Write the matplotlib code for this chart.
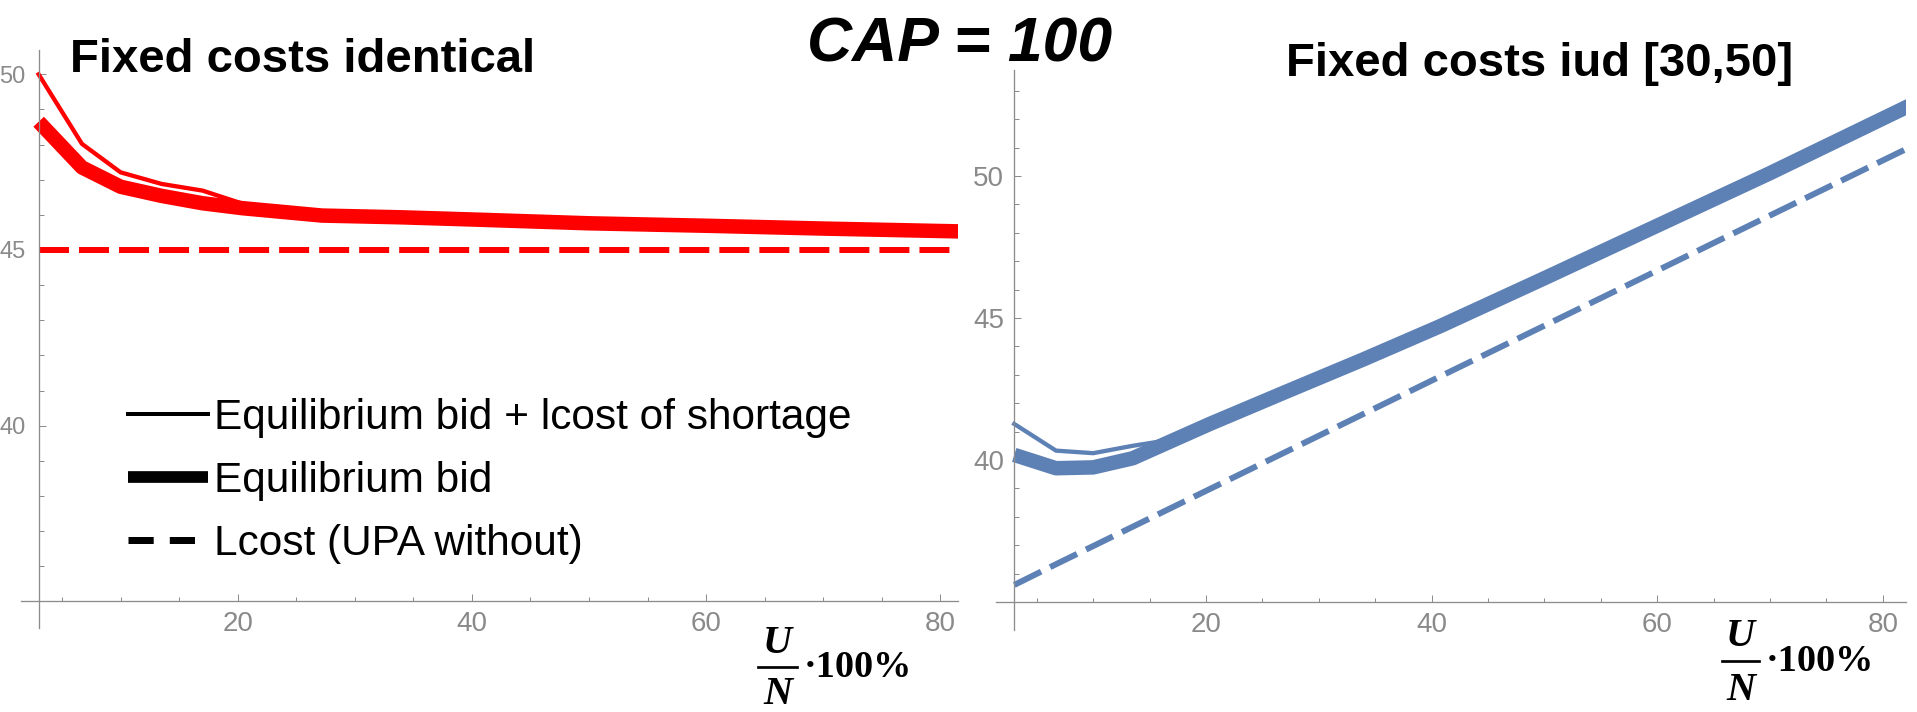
import matplotlib

matplotlib.use("Agg")
import matplotlib.pyplot as plt
from matplotlib.lines import Line2D
from matplotlib.ticker import FixedLocator

W, H = 1917, 712

RED = "#ff0000"
BLUE = "#5e81b5"
AXIS_GREY = "#8c8c8c"
LABEL_GREY = "#8a8a8a"

plt.rcParams["font.family"] = ["Liberation Sans", "DejaVu Sans"]

# U/N * 100% grid shared by both panels
U_PCT = [3.0, 6.7, 10.0, 13.5, 17.0, 20.4, 27.2, 34.0, 40.8, 50.0, 60.0, 70.0, 83.0]

# fixed costs identical
IDENT_BID = [48.65, 47.35, 46.80, 46.54, 46.33, 46.19, 45.98, 45.93, 45.86, 45.76, 45.69, 45.61, 45.52]
IDENT_BID_SHORT = [50.00, 48.02, 47.21, 46.88, 46.69, 46.32, 46.00, 45.95, 45.88, 45.78, 45.71, 45.63, 45.54]
IDENT_LCOST = [45.0, 45.0, 45.0, 45.0, 45.0, 45.0, 45.0, 45.0, 45.0, 45.0, 45.0, 45.0, 45.0]

# fixed costs uniformly distributed on [30, 50]
IUD_BID = [40.18, 39.71, 39.74, 40.06, 40.68, 41.28, 42.42, 43.55, 44.72, 46.40, 48.25, 50.10, 52.60]
IUD_BID_SHORT = [41.27, 40.33, 40.24, 40.50, 40.72, 41.30, 42.44, 43.57, 44.74, 46.42, 48.27, 50.12, 52.62]
IUD_LCOST = [35.60, 36.33, 36.97, 37.65, 38.33, 38.99, 40.31, 41.63, 42.95, 44.73, 46.67, 48.61, 51.13]

LEGEND_LABELS = ["Equilibrium bid + lcost of shortage", "Equilibrium bid", "Lcost (UPA without)"]
X_MAJOR = [20, 40, 60, 80]
Y_MAJOR = [40, 45, 50]

PT = 72 / 100  # px -> pt at dpi 100
SERIF = ["Liberation Serif", "DejaVu Serif"]


def px_axes(fig, left, top, right, bottom):
    return fig.add_axes([left / W, 1 - bottom / H, (right - left) / W, (bottom - top) / H])


def style_axes(ax, xlim, ylim, y_top, xlab_size, ylab_size, ypad):
    ax.set_xlim(*xlim)
    ax.set_ylim(*ylim)
    ax.patch.set_alpha(0)
    for s in ("top", "right"):
        ax.spines[s].set_visible(False)
    ax.spines["left"].set_position(("data", U_PCT[0]))
    ax.spines["bottom"].set_position(("data", 35))
    for s in ("left", "bottom"):
        ax.spines[s].set_color(AXIS_GREY)
        ax.spines[s].set_linewidth(1.3 * PT)
    ax.xaxis.set_major_locator(FixedLocator(X_MAJOR))
    ax.xaxis.set_minor_locator(FixedLocator([v for v in range(5, 80, 5) if v not in X_MAJOR]))
    ax.yaxis.set_major_locator(FixedLocator(Y_MAJOR))
    ax.yaxis.set_minor_locator(FixedLocator([v for v in range(36, y_top + 1) if v not in Y_MAJOR]))
    ax.tick_params(which="both", direction="in", color=AXIS_GREY, width=1.0 * PT,
                   labelcolor=LABEL_GREY)
    ax.tick_params(which="major", length=7 * PT)
    ax.tick_params(which="minor", length=4.5 * PT)
    ax.tick_params(axis="x", labelsize=xlab_size, pad=10 * PT)
    ax.tick_params(axis="y", labelsize=ylab_size, pad=ypad * PT)


def draw_panel(ax, color, bid, bid_short, lcost):
    ax.plot(U_PCT, bid, color=color, lw=14.5 * PT, solid_joinstyle="round", solid_capstyle="butt")
    ax.plot(U_PCT, bid_short, color=color, lw=4.3 * PT, solid_joinstyle="round")
    ax.plot(U_PCT, lcost, color=color, lw=6 * PT, dashes=(5, 1.67))


def axis_label(fig, x0, x1, ybar, u_base, n_base, ybase):
    """U over N with a fraction bar, followed by '·100%' (positions in px)."""
    xc = (x0 + x1) / 2
    for s, yb in (("U", u_base), ("N", n_base)):
        fig.text(xc / W, 1 - yb / H, s, fontsize=29, weight="bold", style="italic",
                 family=SERIF, ha="center", va="baseline")
    fig.add_artist(Line2D([x0 / W, x1 / W], [1 - ybar / H, 1 - ybar / H], color="black",
                          lw=2.7 * PT, transform=fig.transFigure))
    fig.text((x1 + 7) / W, 1 - ybase / H, "\u00b7100%", fontsize=27.5, weight="bold",
             family=SERIF, ha="left", va="baseline")


fig = plt.figure(figsize=(W / 100, H / 100), dpi=100)

# left panel
ax1 = px_axes(fig, 21, 50, 958, 628)
style_axes(ax1, ((21 - 3.5) / 11.71, (958 - 3.5) / 11.71),
           (45 - (628 - 250) / 35.14, 45 + (250 - 50) / 35.14), 49, 20, 17, 13)
draw_panel(ax1, RED, IDENT_BID, IDENT_BID_SHORT, IDENT_LCOST)

handles = [
    Line2D([], [], color="black", lw=4 * PT),
    Line2D([], [], color="black", lw=11.7 * PT, solid_capstyle="butt"),
    Line2D([], [], color="black", lw=7 * PT, dashes=(3.6, 2.3)),
]
ax1.legend(handles, LEGEND_LABELS, loc="upper left", bbox_to_anchor=(128 / W, 1 - 398 / H),
           bbox_transform=fig.transFigure, frameon=False, borderpad=0, borderaxespad=0,
           handlelength=1.88, handletextpad=0.16, labelspacing=0.54, fontsize=30.5)

# right panel
ax2 = px_axes(fig, 995.5, 70, 1906, 630)
style_axes(ax2, ((995.5 - 980.4) / 11.28, (1906 - 980.4) / 11.28),
           (40 - (630 - 460) / 28.4, 40 + (460 - 70) / 28.4), 53, 20, 20, 10)
draw_panel(ax2, BLUE, IUD_BID, IUD_BID_SHORT, IUD_LCOST)

# titles
fig.text(70 / W, 1 - 72 / H, "Fixed costs identical", fontsize=34, weight="bold",
         ha="left", va="baseline")
fig.text(1286 / W, 1 - 76 / H, "Fixed costs iud [30,50]", fontsize=34, weight="bold",
         ha="left", va="baseline")
fig.text(807 / W, 1 - 62 / H, "CAP = 100", fontsize=45, weight="bold", style="italic",
         ha="left", va="baseline")

axis_label(fig, 758, 797, 667, 653, 704, 677)
axis_label(fig, 1722, 1759, 661, 646, 700, 671)

fig.savefig("out.png", dpi=100)
